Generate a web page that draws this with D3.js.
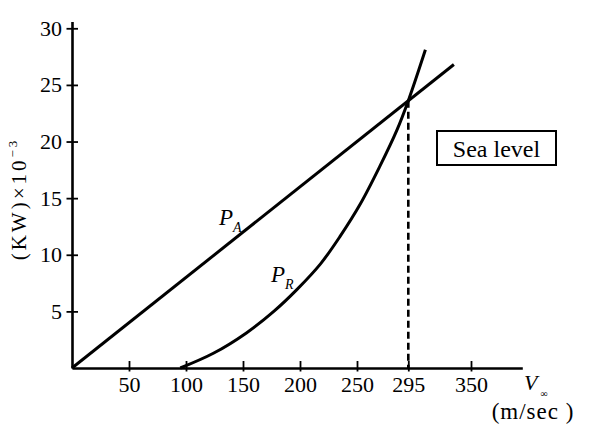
<!DOCTYPE html>
<html>
<head>
<meta charset="utf-8">
<script src="https://cdn.jsdelivr.net/npm/d3@7"></script>
<style>
  body { margin: 0; background: #fff; }
  svg { display: block; }
</style>
</head>
<body>
<div id="chart"></div>
<script>
// values (speed in m/sec, power in KW x 10^-3)
const xTicks = [50, 100, 150, 200, 250, 295, 350];
const yTicks = [5, 10, 15, 20, 25, 30];

const paSpeed = [0, 335];
const paPower = [0, 26.8];

const prSpeed = [95, 124, 153, 177, 197, 218, 235, 253, 270, 285, 295, 310];
const prPower = [0, 1.3, 3.1, 5.0, 6.9, 9.2, 11.6, 14.5, 17.8, 21.0, 23.6, 28.1];

const maxSpeed = 295;
const maxPower = 23.6;

const width = 590;
const height = 437;
const serif = '"Liberation Serif"';

const svg = d3.select("#chart")
    .append("svg")
    .attr("width", width)
    .attr("height", height);

const x = d3.scaleLinear().domain([0, 395]).range([72, 522.3]);
const y = d3.scaleLinear().domain([0, 30.6]).range([368, 21.5]);

// x axis
svg.append("g")
    .attr("transform", `translate(0,${y(0)})`)
    .call(d3.axisBottom(x).tickValues(xTicks).tickSize(0).tickPadding(8.5))
    .call(g => g.attr("font-family", null).attr("font-size", null))
    .call(g => g.select(".domain").attr("stroke-width", 2.6))
    .call(g => g.selectAll(".tick line").attr("y1", -7).attr("y2", 3.5).attr("stroke-width", 1.8))
    .call(g => g.selectAll(".tick text")
        .style("font-family", serif)
        .attr("font-size", 22));

// y axis
svg.append("g")
    .attr("transform", `translate(${x(0)},0)`)
    .call(d3.axisLeft(y).tickValues(yTicks).tickSize(0).tickPadding(10))
    .call(g => g.attr("font-family", null).attr("font-size", null))
    .call(g => g.select(".domain").attr("stroke-width", 2.6))
    .call(g => g.selectAll(".tick line").attr("x1", -5.5).attr("x2", 6).attr("stroke-width", 1.8))
    .call(g => g.selectAll(".tick text")
        .style("font-family", serif)
        .attr("font-size", 22));

const line = d3.line()
    .x(d => x(d[0]))
    .y(d => y(d[1]));

// power available
svg.append("path")
    .datum(d3.zip(paSpeed, paPower))
    .attr("fill", "none")
    .attr("stroke", "#000")
    .attr("stroke-width", 3)
    .attr("d", line);

// power required
svg.append("path")
    .datum(d3.zip(prSpeed, prPower))
    .attr("fill", "none")
    .attr("stroke", "#000")
    .attr("stroke-width", 3)
    .attr("d", line.curve(d3.curveCatmullRom));

// max speed marker
svg.append("line")
    .attr("x1", x(maxSpeed)).attr("x2", x(maxSpeed))
    .attr("y1", y(maxPower)).attr("y2", y(0))
    .attr("stroke", "#000")
    .attr("stroke-width", 2.6)
    .attr("stroke-dasharray", "7,4");

function label(tx, ty, size) {
    return svg.append("text")
        .attr("x", tx).attr("y", ty)
        .attr("font-size", size)
        .style("font-family", serif);
}

// curve labels
const pa = label(219, 225, 23).style("font-style", "italic").text("P");
pa.append("tspan").attr("dy", 7).attr("font-size", 14).text("A");

const pr = label(271, 282, 23).style("font-style", "italic").text("P");
pr.append("tspan").attr("dy", 7).attr("font-size", 14).text("R");

// axis titles
const yl = label(0, 0, 21)
    .attr("transform", "translate(26,199) rotate(-90)")
    .attr("text-anchor", "middle")
    .attr("letter-spacing", 3)
    .text("(KW)×10");
yl.append("tspan").attr("dy", -9).attr("font-size", 13).text("−3");

const vl = label(524, 390, 22).style("font-style", "italic").text("V");
vl.append("tspan").attr("dx", 3).attr("dy", 7)
    .attr("font-size", 10).style("font-style", "normal").text("∞");

label(533, 419, 23)
    .attr("text-anchor", "middle")
    .attr("letter-spacing", 1)
    .text("(m/sec )");

// legend box
svg.append("rect")
    .attr("x", 437).attr("y", 131)
    .attr("width", 119).attr("height", 34)
    .attr("fill", "none")
    .attr("stroke", "#000")
    .attr("stroke-width", 2);

label(496.5, 156.5, 24)
    .attr("text-anchor", "middle")
    .text("Sea level");
</script>
</body>
</html>
